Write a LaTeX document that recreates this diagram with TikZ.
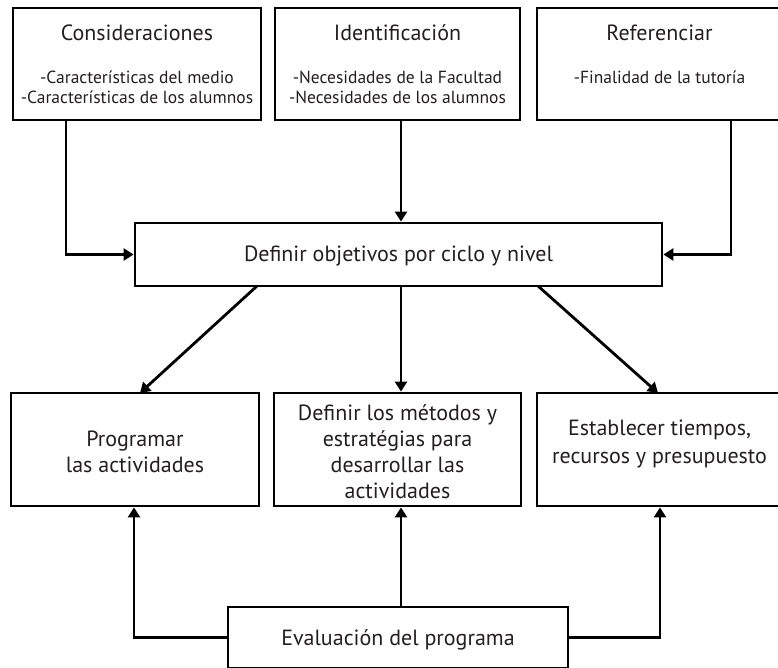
\documentclass[tikz,border=0pt]{standalone}
\usepackage{fontspec}
\setmainfont{PT Sans}
\usetikzlibrary{arrows.meta}
\definecolor{ink}{RGB}{35,31,32}
\tikzset{
  box/.style={draw=black, line width=2.8pt, fill=white, rectangle, inner sep=0pt, text=ink},
  arr/.style={line width=2.8pt, -{Triangle[length=10pt,width=12pt]}},
}
% a box content: fixed height, top aligned, lines placed by struts
\newcommand{\boxtext}[3]{\parbox[c][#1][t]{#2}{\centering\baselineskip=0pt\lineskip=0pt\lineskiplimit=0pt #3\par}}
\newcommand{\bline}[2]{\rule{0pt}{#1}\smash{#2}}
\newcommand{\ttltxt}{\fontsize{22}{0}\selectfont}
\newcommand{\subtxt}{\fontsize{17.5}{0}\selectfont}
\newcommand{\bigtxt}{\fontsize{22}{0}\selectfont}
\begin{document}
\begin{tikzpicture}[x=1pt,y=-1pt]
\useasboundingbox (0,0) rectangle (778,668);
% top boxes (y 8..120)
\node[box, minimum width=248pt, minimum height=112pt] (cons) at (137,64)
  {\boxtext{112pt}{244pt}{\bline{33pt}{\ttltxt Consideraciones}\\\bline{43pt}{\subtxt -Características del medio}\\\bline{20pt}{\subtxt -Características de los alumnos}}};
\node[box, minimum width=245pt, minimum height=112pt] (iden) at (397.5,64)
  {\boxtext{112pt}{241pt}{\bline{33pt}{\ttltxt Identificación}\\\bline{43pt}{\subtxt -Necesidades de la Facultad}\\\bline{20pt}{\subtxt -Necesidades de los alumnos}}};
\node[box, minimum width=245pt, minimum height=112pt] (ref) at (659.5,64)
  {\boxtext{112pt}{241pt}{\bline{33pt}{\ttltxt Referenciar}\\\bline{43pt}{\subtxt -Finalidad de la tutoría}}};
% center box (y 223..286)
\node[box, minimum width=527pt, minimum height=63pt] (ctr) at (398.5,254.5)
  {\boxtext{63pt}{520pt}{\bline{39pt}{\bigtxt Definir objetivos por ciclo y nivel}}};
% bottom boxes (y 393..506)
\node[box, minimum width=248pt, minimum height=113pt] (bl) at (135,449.5)
  {\boxtext{113pt}{244pt}{\bline{53pt}{\bigtxt Programar}\\\bline{26pt}{\bigtxt las actividades}}};
\node[box, minimum width=247pt, minimum height=113pt] (bm) at (397.5,449.5)
  {\boxtext{113pt}{243pt}{\bline{27pt}{\bigtxt Definir los métodos y}\\\bline{26pt}{\bigtxt estratégias para}\\\bline{26pt}{\bigtxt desarrollar las}\\\bline{26pt}{\bigtxt actividades}}};
\node[box, minimum width=245pt, minimum height=113pt] (br) at (659.5,449.5)
  {\boxtext{113pt}{241pt}{\bline{42pt}{\bigtxt Establecer tiempos,}\\\bline{28pt}{\bigtxt recursos y presupuesto}}};
% evaluation (y 607..668)
\node[box, minimum width=340pt, minimum height=61pt] (ev) at (398,637.5)
  {\boxtext{61pt}{336pt}{\bline{38pt}{\bigtxt Evaluación del programa}}};
% coordinates
\coordinate (xl) at (66,0);
\coordinate (xm) at (401,0);
\coordinate (xr) at (731,0);
\coordinate (d1s) at (257,286);
\coordinate (d1e) at (140,393);
\coordinate (d2s) at (538,286);
\coordinate (d2e) at (658,393);
\coordinate (bxl) at (134,0);
\coordinate (bxr) at (660,0);
% connectors top
\draw[arr] (cons.south -| xl) |- (ctr.west);
\draw[arr] (iden.south -| xm) -- (ctr.north -| xm);
\draw[arr] (ref.south -| xr) |- (ctr.east);
% connectors middle
\draw[arr] (d1s) -- (d1e);
\draw[arr] (ctr.south -| xm) -- (bm.north -| xm);
\draw[arr] (d2s) -- (d2e);
% connectors bottom
\draw[arr] (ev.west) -| (bl.south -| bxl);
\draw[arr] (ev.north -| xm) -- (bm.south -| xm);
\draw[arr] (ev.east) -| (br.south -| bxr);
\end{tikzpicture}
\end{document}
